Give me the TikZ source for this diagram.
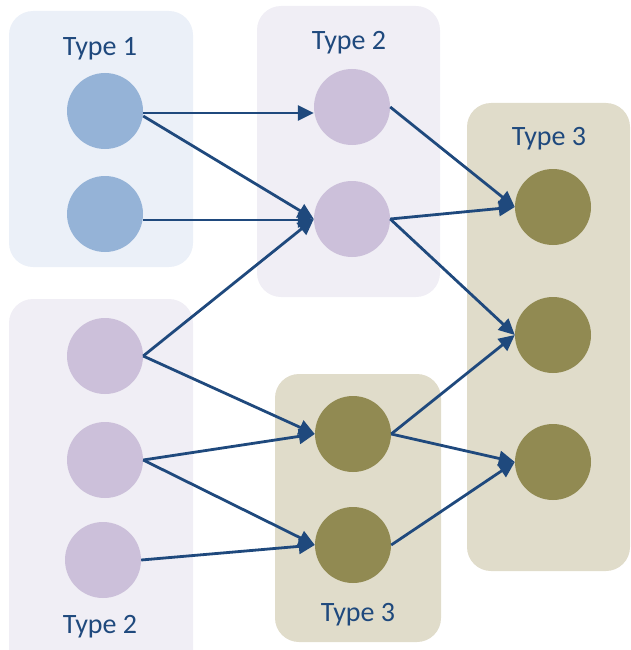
\documentclass[tikz,border=0pt]{standalone}
\usepackage{fontspec}
\setmainfont{Carlito}
\usetikzlibrary{arrows.meta}
\definecolor{txtblue}{HTML}{1F497D}
\definecolor{boxone}{HTML}{EBF0F8}
\definecolor{circone}{HTML}{95B3D7}
\definecolor{boxtwo}{HTML}{F0EEF5}
\definecolor{circtwo}{HTML}{CCC0DA}
\definecolor{boxthree}{HTML}{E0DCCA}
\definecolor{circthree}{HTML}{918A52}
\tikzset{
  grp/.style={rounded corners=24pt},
  nd/.style={circle, minimum size=76pt, inner sep=0pt, draw=none},
  n1/.style={nd, fill=circone},
  n2/.style={nd, fill=circtwo},
  n3/.style={nd, fill=circthree},
  lbl/.style={anchor=base, text=txtblue, font=\fontsize{28}{30}\selectfont},
  conn/.style={draw=txtblue, line width=2.8pt, -{Triangle[length=16pt,width=15pt]}}
}
\begin{document}
\begin{tikzpicture}[x=1pt,y=-1pt]
\useasboundingbox (0,0) rectangle (630,650);
\clip (0,0) rectangle (630,650);
% group boxes
\fill[boxone, grp] (9,11) rectangle (193,267);
\fill[boxtwo, grp] (257,6) rectangle (440,297);
\fill[boxtwo, grp] (9,299) rectangle (193,676);
\fill[boxthree, grp] (275,374) rectangle (441,642);
\fill[boxthree, grp] (467,103) rectangle (630,571);
% labels
\node[lbl] (l1) at (100,56) {Type 1};
\node[lbl] (l2) at (349,50) {Type 2};
\node[lbl] (l3) at (549,146) {Type 3};
\node[lbl] (l4) at (358,621) {Type 3};
\node[lbl] (l5) at (100,633) {Type 2};
% nodes
\node[n1] (a1) at (105,111) {};
\node[n1] (a2) at (105,214) {};
\node[n2] (b1) at (352,107) {};
\node[n2] (b2) at (352,219) {};
\node[n2] (c1) at (105,356) {};
\node[n2] (c2) at (105,460) {};
\node[n2] (c3) at (103,560) {};
\node[n3] (d1) at (353,434) {};
\node[n3] (d2) at (353,545) {};
\node[n3] (e1) at (553,207) {};
\node[n3] (e2) at (553,335) {};
\node[n3] (e3) at (553,462) {};
% connectors
\draw[conn] ([yshift=-2pt]a1.east) -- ([yshift=-6pt]b1.west);
\draw[conn] ([yshift=-5pt]a1.east) -- (b2.west);
\draw[conn] ([yshift=-6pt]a2.east) -- ([yshift=-1pt]b2.west);
\draw[conn] (c1.east) -- (b2.west);
\draw[conn] (c1.east) -- (d1.west);
\draw[conn] (c2.east) -- (d1.west);
\draw[conn] (c2.east) -- (d2.west);
\draw[conn] (c3.east) -- (d2.west);
\draw[conn] (b1.east) -- (e1.west);
\draw[conn] (b2.east) -- (e1.west);
\draw[conn] (b2.east) -- (e2.west);
\draw[conn] (d1.east) -- (e2.west);
\draw[conn] (d1.east) -- (e3.west);
\draw[conn] (d2.east) -- (e3.west);
\end{tikzpicture}
\end{document}
